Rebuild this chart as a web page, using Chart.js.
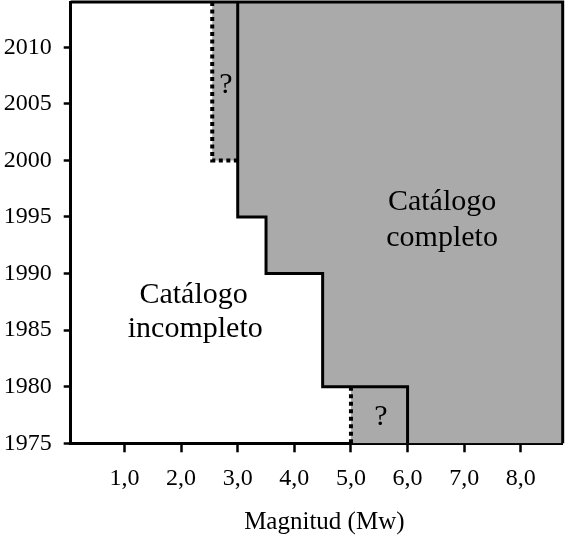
<!DOCTYPE html>
<html>
<head>
<meta charset="utf-8">
<script src="https://cdn.jsdelivr.net/npm/chart.js@4"></script>
<style>
  html, body { margin: 0; padding: 0; background: #ffffff; }
  #wrap { width: 565px; height: 537px; }
</style>
</head>
<body>
<div id="wrap"><canvas id="graphique"></canvas></div>
<script>
// Limites des axes
const magMin = 0.05;
const magMax = 8.74;
const anneeMin = 1975;
const anneeMax = 2014;

// Etiquettes des graduations
const magTicks = [1, 2, 3, 4, 5, 6, 7, 8];
const anneeTicks = [1975, 1980, 1985, 1990, 1995, 2000, 2005, 2010];

// Limite du catalogue complet (trait plein)
const limiteMag = [3.0, 3.0, 3.5, 3.5, 4.5, 4.5, 6.0, 6.0];
const limiteAnnee = [2014, 1995, 1995, 1990, 1990, 1980, 1980, 1975];

// Limites incertaines (pointillés)
const incertainHautMag = [2.55, 2.55, 3.0];
const incertainHautAnnee = [2014, 2000, 2000];
const incertainBasMag = [5.0, 5.0];
const incertainBasAnnee = [1980, 1975];

// Zone grise (catalogue complet + zones incertaines)
const zoneMag = [2.55, 8.74, 8.74, 5.0, 5.0, 4.5, 4.5, 3.5, 3.5, 3.0, 3.0, 2.55];
const zoneAnnee = [2014, 2014, 1975, 1975, 1980, 1980, 1990, 1990, 1995, 1995, 2000, 2000];

// Textes placés en coordonnées de données
const textes = [
  { texte: "Catálogo", mag: 6.61, annee: 1995.6 },
  { texte: "completo", mag: 6.61, annee: 1992.4 },
  { texte: "Catálogo", mag: 2.22, annee: 1987.4 },
  { texte: "incompleto", mag: 2.25, annee: 1984.4 },
  { texte: "?", mag: 2.79, annee: 2006.0 },
  { texte: "?", mag: 5.53, annee: 1976.6 }
];

// Titre de l'axe horizontal
const titreX = "Magnitud (Mw)";
const titreXMag = 4.53;

const police = "'Liberation Serif', 'Times New Roman', serif";

function points(xs, ys) {
  return xs.map((x, i) => ({ x: x, y: ys[i] }));
}

// Plugin : cadre haut/droit + textes + titre de l'axe x
const pluginTextes = {
  id: "textes",
  afterDatasetsDraw(chart) {
    const ctx = chart.ctx;
    const { x, y } = chart.scales;
    const ca = chart.chartArea;
    ctx.save();
    ctx.font = "30px " + police;
    ctx.fillStyle = "#000000";
    ctx.textAlign = "center";
    ctx.textBaseline = "alphabetic";
    for (const t of textes) {
      ctx.fillText(t.texte, x.getPixelForValue(t.mag), y.getPixelForValue(t.annee));
    }
    // titre de l'axe x, sous les étiquettes
    ctx.font = "25px " + police;
    ctx.fillText(titreX, x.getPixelForValue(titreXMag), x.bottom - 8);
    // cadre
    ctx.strokeStyle = "#000000";
    ctx.lineWidth = 3;
    ctx.beginPath();
    ctx.moveTo(ca.left, ca.top);
    ctx.lineTo(ca.right, ca.top);
    ctx.lineTo(ca.right, ca.bottom);
    ctx.stroke();
    ctx.restore();
  }
};

const data = {
  datasets: [
    {
      label: "Límite",
      data: points(limiteMag, limiteAnnee),
      showLine: true,
      borderColor: "#000000",
      borderWidth: 3,
      pointRadius: 0,
      fill: false,
      order: 1
    },
    {
      label: "Incierto 2000",
      data: points(incertainHautMag, incertainHautAnnee),
      showLine: true,
      borderColor: "#000000",
      borderWidth: 4,
      borderDash: [4, 3.5],
      pointRadius: 0,
      fill: false,
      order: 1
    },
    {
      label: "Incierto 1980",
      data: points(incertainBasMag, incertainBasAnnee),
      showLine: true,
      borderColor: "#000000",
      borderWidth: 4,
      borderDash: [4, 3.5],
      pointRadius: 0,
      fill: false,
      order: 1
    },
    {
      label: "Zona",
      data: points(zoneMag, zoneAnnee),
      showLine: true,
      borderWidth: 0,
      borderColor: "rgba(0,0,0,0)",
      backgroundColor: "#aaaaaa",
      pointRadius: 0,
      fill: "shape",
      order: 5
    }
  ]
};

const config = {
  type: "scatter",
  data: data,
  options: {
    responsive: true,
    maintainAspectRatio: false,
    animation: false,
    layout: { padding: { top: 2, right: 2.3, left: 0, bottom: 0 } },
    plugins: {
      legend: { display: false },
      tooltip: { enabled: false }
    },
    scales: {
      x: {
        type: "linear",
        min: magMin,
        max: magMax,
        afterBuildTicks: (s) => { s.ticks = magTicks.map((v) => ({ value: v })); },
        afterFit: (s) => {
          s.height = 93.7;
          s.paddingLeft = 0;
          s.paddingRight = 0;
        },
        ticks: {
          color: "#000000",
          font: { family: police, size: 24 },
          padding: 12,
          maxRotation: 0,
          callback: (v) => v.toFixed(1).replace(".", ",")
        },
        grid: {
          drawOnChartArea: false,
          drawTicks: true,
          tickLength: 9,
          tickColor: "#000000",
          tickWidth: 2.5
        },
        border: { display: true, color: "#000000", width: 3 },
        title: { display: false }
      },
      y: {
        type: "linear",
        min: anneeMin,
        max: anneeMax,
        afterBuildTicks: (s) => { s.ticks = anneeTicks.map((v) => ({ value: v })); },
        afterFit: (s) => {
          s.width = 70.7;
          s.paddingTop = 0;
          s.paddingBottom = 0;
        },
        ticks: {
          color: "#000000",
          font: { family: police, size: 24 },
          padding: 12,
          callback: (v) => String(v)
        },
        grid: {
          drawOnChartArea: false,
          drawTicks: true,
          tickLength: 7,
          tickColor: "#000000",
          tickWidth: 2.5
        },
        border: { display: true, color: "#000000", width: 3 }
      }
    }
  },
  plugins: [pluginTextes]
};

new Chart(document.querySelector("#graphique"), config);
</script>
</body>
</html>
